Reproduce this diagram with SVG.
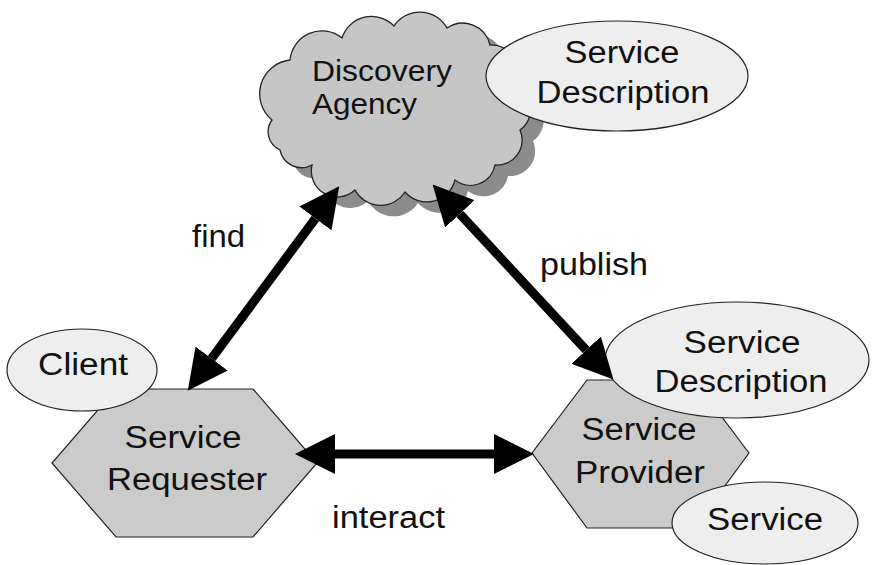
<svg xmlns="http://www.w3.org/2000/svg" width="872" height="565" viewBox="0 0 872 565">
<style>
.t{font-family:"Liberation Sans",Arial,sans-serif;font-size:31px;fill:#111;}
.s{font-size:29px;}
.m{text-anchor:middle;}
.ell{fill:#eeeeee;stroke:#222;stroke-width:1.2;}
.hex{fill:#cbcbcb;stroke:#222;stroke-width:1.2;}
.cloud{fill:#c6c6c6;stroke:#222;stroke-width:1.3;}
.shadow{fill:#8c8c8c;}
.arr{stroke:#000;stroke-width:9;fill:none;marker-start:url(#ah);marker-end:url(#ah);}
</style>
<defs>
<marker id="ah" markerUnits="userSpaceOnUse" markerWidth="40" markerHeight="40" viewBox="0 0 38 38" refX="0" refY="19" orient="auto-start-reverse">
<path d="M0,0 L38,19 L0,38 z" fill="#000"/>
</marker>
<path id="cloudp" d="M272,120 A34,34 0 0 1 290,60 A32,32 0 0 1 342,38 A31,31 0 0 1 394,26 A31,31 0 0 1 447,28 A28,28 0 0 1 490,45 A27,27 0 0 1 515,85 A26,26 0 0 1 520,130 A25,25 0 0 1 495,165 A25,25 0 0 1 455,180 A29,29 0 0 1 405,192 A29,29 0 0 1 355,190 A26,26 0 0 1 312,165 A22,22 0 0 1 280,150 A20,20 0 0 1 272,120 Z"/>
</defs>
<rect width="872" height="565" fill="#fff"/>

<g id="discovery-agency">
<use href="#cloudp" class="shadow" transform="translate(13,11)"/>
<use href="#cloudp" class="cloud"/>
<text class="t s" x="312" y="81" textLength="140" lengthAdjust="spacingAndGlyphs">Discovery</text>
<text class="t s" x="312" y="114" textLength="105" lengthAdjust="spacingAndGlyphs">Agency</text>
</g>

<g id="service-description-top">
<ellipse class="ell" cx="617" cy="76" rx="131" ry="55"/>
<text class="t m" x="622" y="63" textLength="115" lengthAdjust="spacingAndGlyphs">Service</text>
<text class="t m" x="623" y="103" textLength="173" lengthAdjust="spacingAndGlyphs">Description</text>
</g>

<g id="service-requester">
<polygon class="hex" points="116,389 253,389 317,463 253,537 116,537 52,463"/>
<text class="t m" x="183" y="448" textLength="117" lengthAdjust="spacingAndGlyphs">Service</text>
<text class="t m" x="187" y="490" textLength="160" lengthAdjust="spacingAndGlyphs">Requester</text>
</g>

<g id="client">
<ellipse class="ell" cx="82" cy="370" rx="75" ry="41"/>
<text class="t m" x="83" y="375" textLength="90" lengthAdjust="spacingAndGlyphs">Client</text>
</g>

<g id="service-provider">
<polygon class="hex" points="587,380 694,380 749,453 694,528 587,528 532,453"/>
<text class="t m" x="639" y="440" textLength="115" lengthAdjust="spacingAndGlyphs">Service</text>
<text class="t m" x="640" y="483" textLength="130" lengthAdjust="spacingAndGlyphs">Provider</text>
</g>

<g id="service-description-provider">
<ellipse class="ell" cx="737" cy="360" rx="132" ry="58"/>
<text class="t m" x="742" y="353" textLength="117" lengthAdjust="spacingAndGlyphs">Service</text>
<text class="t m" x="741" y="392" textLength="173" lengthAdjust="spacingAndGlyphs">Description</text>
</g>

<g id="service">
<ellipse class="ell" cx="765" cy="523" rx="93" ry="41"/>
<text class="t m" x="765" y="530" textLength="116" lengthAdjust="spacingAndGlyphs">Service</text>
</g>

<g id="connectors">
<line class="arr" x1="211.6" y1="358.5" x2="315.4" y2="218.5"/>
<line class="arr" x1="459.8" y1="213.9" x2="586.2" y2="350.1"/>
<line class="arr" x1="335" y1="454" x2="494" y2="454"/>
<text class="t" x="192" y="247" textLength="53" lengthAdjust="spacingAndGlyphs">find</text>
<text class="t" x="540" y="275" textLength="108" lengthAdjust="spacingAndGlyphs">publish</text>
<text class="t" x="332" y="528" textLength="113" lengthAdjust="spacingAndGlyphs">interact</text>
</g>
</svg>
